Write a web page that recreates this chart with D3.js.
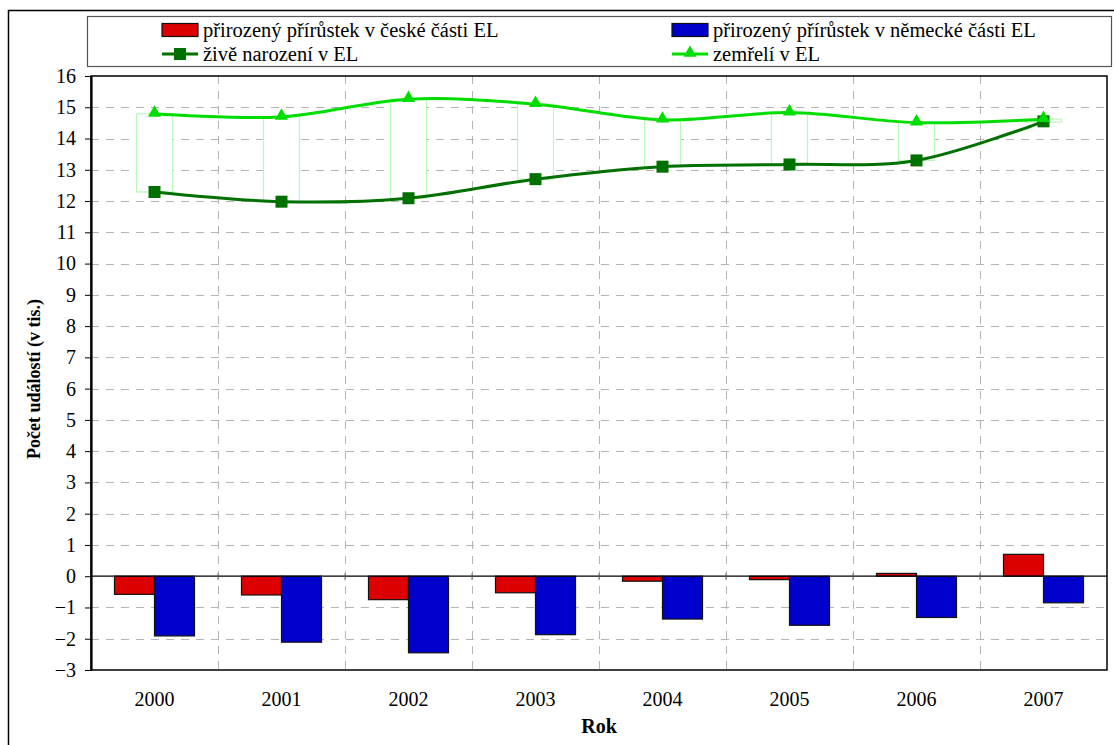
<!DOCTYPE html>
<html>
<head>
<meta charset="utf-8">
<script src="https://cdn.jsdelivr.net/npm/d3@7"></script>
<style>
  body { margin: 0; background: #fff; }
</style>
</head>
<body>
<svg id="chart" width="1114" height="745"></svg>
<script>
(function(){

    // data (thousands)
    var years = ["2000", "2001", "2002", "2003", "2004", "2005", "2006", "2007"];
    var czNatural = [-0.58, -0.60, -0.75, -0.53, -0.16, -0.11, 0.09, 0.70];
    var deNatural = [-1.91, -2.11, -2.45, -1.87, -1.37, -1.57, -1.32, -0.85];
    var births = [12.29, 11.98, 12.09, 12.70, 13.10, 13.17, 13.30, 14.55];
    var deaths = [14.79, 14.69, 15.26, 15.10, 14.60, 14.83, 14.51, 14.62];
    var yTicks = d3.range(-3, 17);

    var seriesNames = ["přirozený přírůstek v české části EL", "přirozený přírůstek v německé části EL",
                       "živě narození v EL", "zemřelí v EL"];

    var red = "#dd0000", blue = "#0000cc", darkGreen = "#007000", lightGreen = "#00dd00";
    var serif = "Liberation Serif";

    var plot = {left: 91, top: 76, right: 1107, bottom: 670};

    var svg = d3.select("#chart");

    // outer frame
    svg.append("rect")
        .attr("x", 8.5).attr("y", 10.5)
        .attr("width", 1120).attr("height", 750)
        .attr("fill", "none").attr("stroke", "#000").attr("stroke-width", 1.5);

    var x = d3.scaleBand()
        .domain(years)
        .range([plot.left, plot.right])
        .padding(0);

    var y = d3.scaleLinear()
        .domain([-3, 16])
        .range([plot.bottom, plot.top]);

    var barW = 40;
    var xSub = d3.scaleBand()
        .domain(["cz", "de"])
        .range([x.bandwidth() / 2 - barW, x.bandwidth() / 2 + barW]);

    // grid
    svg.append("g")
        .selectAll("line")
        .data(yTicks.filter(d => d !== 0 && d !== -3 && d !== 16))
        .join("line")
            .attr("x1", plot.left).attr("x2", plot.right)
            .attr("y1", d => Math.round(y(d)) + 0.5).attr("y2", d => Math.round(y(d)) + 0.5)
            .attr("stroke", "#b4b4b4")
            .attr("stroke-dasharray", "8,7");

    svg.append("g")
        .selectAll("line")
        .data(years.slice(1))
        .join("line")
            .attr("x1", d => Math.round(x(d)) + 0.5).attr("x2", d => Math.round(x(d)) + 0.5)
            .attr("y1", plot.top).attr("y2", plot.bottom)
            .attr("stroke", "#b4b4b4")
            .attr("stroke-dasharray", "8,7");

    // bars
    var barData = [];
    years.forEach(function(yr, i) {
        barData.push({year: yr, key: "cz", value: czNatural[i]});
        barData.push({year: yr, key: "de", value: deNatural[i]});
    });

    svg.append("g")
        .selectAll("rect")
        .data(barData)
        .join("rect")
            .attr("x", d => x(d.year) + xSub(d.key))
            .attr("y", d => y(Math.max(0, d.value)))
            .attr("width", xSub.bandwidth())
            .attr("height", d => Math.abs(y(d.value) - y(0)))
            .attr("fill", d => d.key === "cz" ? red : blue)
            .attr("stroke", "#111")
            .attr("stroke-width", 1.2);

    // zero axis line with ticks
    svg.append("line")
        .attr("x1", plot.left).attr("x2", plot.right)
        .attr("y1", y(0)).attr("y2", y(0))
        .attr("stroke", "#000").attr("stroke-width", 1.2);

    svg.append("g")
        .selectAll("line")
        .data(years.slice(1))
        .join("line")
            .attr("x1", d => x(d)).attr("x2", d => x(d))
            .attr("y1", y(0) - 3).attr("y2", y(0) + 4)
            .attr("stroke", "#666");

    // up-down bars between deaths and births
    var udW = 36;
    svg.append("g")
        .selectAll("rect")
        .data(years)
        .join("rect")
            .attr("x", d => x(d) + x.bandwidth() / 2 - udW / 2)
            .attr("y", (d, i) => y(Math.max(births[i], deaths[i])))
            .attr("width", udW)
            .attr("height", (d, i) => Math.max(3, Math.abs(y(births[i]) - y(deaths[i]))))
            .attr("fill", "#fff")
            .attr("stroke", "#b8f8b8")
            .attr("stroke-width", 1.2);

    var cx = d => x(d) + x.bandwidth() / 2;

    var line = d3.line()
        .x((d, i) => cx(years[i]))
        .y(d => y(d))
        .curve(d3.curveCardinal.tension(0));

    svg.append("path")
        .datum(deaths)
        .attr("d", line)
        .attr("fill", "none")
        .attr("stroke", lightGreen)
        .attr("stroke-width", 3);

    svg.append("path")
        .datum(births)
        .attr("d", line)
        .attr("fill", "none")
        .attr("stroke", darkGreen)
        .attr("stroke-width", 3);

    var tri = d3.symbol().type(d3.symbolTriangle).size(75);

    svg.append("g")
        .selectAll("rect")
        .data(births)
        .join("rect")
            .attr("x", (d, i) => cx(years[i]) - 6)
            .attr("y", d => y(d) - 6)
            .attr("width", 12).attr("height", 12)
            .attr("fill", darkGreen);

    svg.append("g")
        .selectAll("path")
        .data(deaths)
        .join("path")
            .attr("d", tri)
            .attr("transform", (d, i) => "translate(" + cx(years[i]) + "," + (y(d) - 1) + ")")
            .attr("fill", lightGreen);

    // plot frame
    svg.append("rect")
        .attr("x", plot.left).attr("y", plot.top)
        .attr("width", plot.right - plot.left).attr("height", plot.bottom - plot.top)
        .attr("fill", "none").attr("stroke", "#000").attr("stroke-width", 1.5);

    // y axis
    var yAxis = svg.append("g")
        .attr("transform", "translate(" + plot.left + ",0)")
        .call(d3.axisLeft(y).tickValues(yTicks).tickSize(6).tickPadding(9).tickSizeOuter(0));
    yAxis.attr("font-family", serif).attr("font-size", 20);
    yAxis.select(".domain").attr("stroke-width", 2.2);
    yAxis.selectAll("text").attr("fill", "#000");

    // x labels
    svg.append("g")
        .selectAll("text")
        .data(years)
        .join("text")
            .attr("x", d => cx(d))
            .attr("y", 706)
            .attr("text-anchor", "middle")
            .attr("font-family", serif)
            .attr("font-size", 20)
            .text(d => d);

    svg.append("text")
        .attr("x", (plot.left + plot.right) / 2)
        .attr("y", 733)
        .attr("text-anchor", "middle")
        .attr("font-family", serif)
        .attr("font-size", 20)
        .attr("font-weight", "bold")
        .text("Rok");

    svg.append("text")
        .attr("transform", "translate(40,379) rotate(-90)")
        .attr("text-anchor", "middle")
        .attr("font-family", serif)
        .attr("font-size", 18)
        .attr("font-weight", "bold")
        .text("Počet událostí (v tis.)");

    // legend
    var legend = svg.append("g");
    legend.append("rect")
        .attr("x", 87.5).attr("y", 16.5)
        .attr("width", 1024).attr("height", 50)
        .attr("fill", "#fff").attr("stroke", "#555").attr("stroke-width", 1.2);

    var legPos = [[162, 30], [672, 30], [162, 54], [672, 54]];
    seriesNames.forEach(function(name, i) {
        var g = legend.append("g").attr("transform", "translate(" + legPos[i][0] + "," + legPos[i][1] + ")");
        if (i < 2) {
            g.append("rect")
                .attr("x", 0).attr("y", -6.5).attr("width", 36).attr("height", 13)
                .attr("fill", i === 0 ? red : blue)
                .attr("stroke", "#111").attr("stroke-width", 1.2);
        } else {
            var col = i === 2 ? darkGreen : lightGreen;
            g.append("line")
                .attr("x1", 0).attr("x2", 36).attr("y1", 0).attr("y2", 0)
                .attr("stroke", col).attr("stroke-width", 3);
            if (i === 2) {
                g.append("rect").attr("x", 12).attr("y", -6).attr("width", 12).attr("height", 12).attr("fill", col);
            } else {
                g.append("path").attr("d", tri).attr("transform", "translate(18,-1)").attr("fill", col);
            }
        }
        g.append("text")
            .attr("x", 41)
            .attr("y", 7)
            .attr("font-family", serif)
            .attr("font-size", 20.5)
            .text(name);
    });

})()
</script>
</body>
</html>
